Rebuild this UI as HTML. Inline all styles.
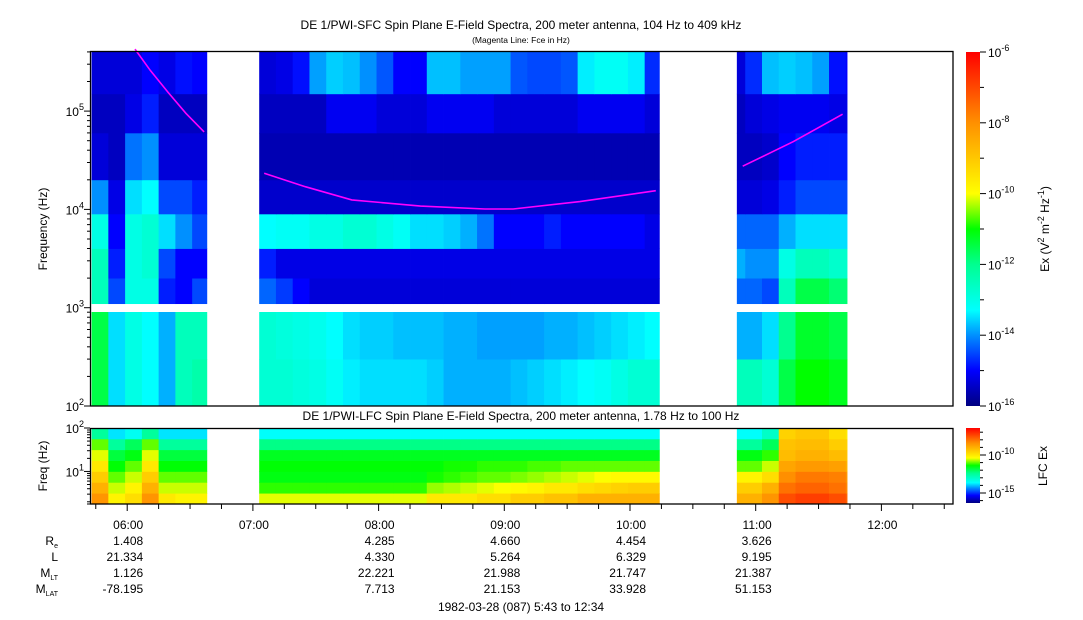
<!DOCTYPE html>
<html><head><meta charset="utf-8"><style>
body{margin:0;background:#fff;}
svg{display:block;font-family:"Liberation Sans",Arial,sans-serif;}
</style></head><body>
<svg id="chart" width="1083" height="620" viewBox="0 0 1083 620" xmlns="http://www.w3.org/2000/svg">
<rect x="0" y="0" width="1083" height="620" fill="#fff"/>
<text x="521" y="29" font-size="12" text-anchor="middle">DE 1/PWI-SFC  Spin Plane E-Field Spectra, 200 meter antenna, 104 Hz to 409 kHz</text>
<text x="521" y="43" font-size="8.5" text-anchor="middle">(Magenta Line: Fce in Hz)</text>
<text x="521" y="420" font-size="12" text-anchor="middle">DE 1/PWI-LFC  Spin Plane E-Field Spectra, 200 meter antenna, 1.78 Hz to 100 Hz</text>
<g id="sfc"></g>
<g id="lfc"></g>
<rect x="90" y="306" width="863" height="6" fill="#fff"/>
<g id="fce"></g>
<rect x="90.5" y="51.5" width="862.5" height="354.5" fill="none" stroke="#000" stroke-width="1.3"/>
<rect x="90.5" y="428.5" width="862.5" height="75.5" fill="none" stroke="#000" stroke-width="1.3"/>
<g id="axes"></g>
<text transform="translate(47,229) rotate(-90)" font-size="12" text-anchor="middle">Frequency (Hz)</text>
<text transform="translate(47,466) rotate(-90)" font-size="12" text-anchor="middle">Freq (Hz)</text>
<defs>
<linearGradient id="jet" x1="0" y1="1" x2="0" y2="0">
<stop offset="0" stop-color="#000080"/><stop offset="0.1" stop-color="#0000ff"/><stop offset="0.2" stop-color="#0090ff"/><stop offset="0.27" stop-color="#00ffff"/><stop offset="0.4" stop-color="#00ff90"/><stop offset="0.5" stop-color="#00ff00"/><stop offset="0.6" stop-color="#ffff00"/><stop offset="0.8" stop-color="#ff9000"/><stop offset="1" stop-color="#ff0000"/>
</linearGradient>
</defs>
<rect x="966" y="52" width="14" height="354" fill="url(#jet)"/>
<rect x="966" y="428" width="14" height="75" fill="url(#jet)"/>
<text transform="translate(1049,229) rotate(-90)" font-size="12" text-anchor="middle">Ex (V<tspan dy="-5" font-size="9">2</tspan><tspan dy="5"> m</tspan><tspan dy="-5" font-size="9">-2</tspan><tspan dy="5"> Hz</tspan><tspan dy="-5" font-size="9">-1</tspan><tspan dy="5">)</tspan></text>
<text transform="translate(1047,466) rotate(-90)" font-size="12" text-anchor="middle">LFC Ex</text>
<g id="eph" font-size="12"></g>
<text x="521" y="611" font-size="12" text-anchor="middle">1982-03-28 (087) 5:43 to 12:34</text>
</svg>
<script>
// ---- data ----
const segments = [[343, 398], [423, 614], [651, 703.6]]; // minutes of day with data
const binStart = 343, binWidth = 8;
const sfcBandEdges = [[100,300],[300,1000],[1100,2000],[2000,4000],[4000,9000],[9000,20000],[20000,60000],[60000,150000],[150000,409000]];
const n = null;
const sfc100_300 = [-11.5,-13.5,-13,-13.3,-13.8,-12.5,-12.3, n,n,n, -12.8,-12.8,-12.9,-13,-13.2,-13.4,-13.5,-13.5,-13.5,-13.5,-13.6,-13.8,-13.8,-13.8,-13.8,-13.7,-13.6,-13.5,-13.4,-13.3,-13.2,-13,-12.8,-12.8, n,n,n,n, -12.5,-12.5,-12.8,-11.5,-11,-11,-11.2,-11.2];
const sfc300_1k = [-11.5,-13.5,-13,-13.3,-13.8,-12.5,-12.5, n,n,n, -12.8,-12.9,-13,-13.1,-13.3,-13.5,-13.6,-13.6,-13.7,-13.7,-13.7,-13.8,-13.8,-13.9,-13.9,-13.9,-13.9,-13.8,-13.8,-13.7,-13.6,-13.5,-13.4,-13.3, n,n,n,n, -13.8,-13.8,-13.5,-12,-11.3,-11.3,-11.5,-11.5];
const sfc1k_2k = [-12.5,-14.5,-13,-13,-14.8,-15,-14.5, n,n,n, -14.3,-14.6,-15,-15.3,-15.3,-15.3,-15.3,-15.3,-15.3,-15.3,-15.3,-15.3,-15.3,-15.3,-15.3,-15.3,-15.3,-15.3,-15.3,-15.3,-15.3,-15.3,-15.3,-15.3, n,n,n,n, -14.3,-14.3,-14.5,-12.5,-11.5,-11.5,-11.8,-11.8];
const sfc2k_4k = [-12.5,-14.8,-13,-12.8,-14.5,-15,-15, n,n,n, -14.8,-15.2,-15.2,-15.2,-15.2,-15.2,-15.2,-15.2,-15.2,-15.2,-15.2,-15.2,-15.2,-15.2,-15.2,-15.2,-15.2,-15.2,-15.2,-15.2,-15.2,-15.2,-15.2,-15.2, n,n,n,n, -13.8,-14,-14,-13,-12.5,-12.5,-12.7,-12.7];
const sfc4k_9k = [-13,-15,-13,-12.8,-13.5,-14,-14.5, n,n,n, -13.3,-13.2,-13.2,-13,-13,-12.8,-12.8,-13,-13.2,-13.5,-13.5,-13.6,-13.8,-14.2,-15,-15,-15,-14.8,-15,-15,-15,-15,-15,-15.2, n,n,n,n, -14.3,-14.3,-14.3,-13.8,-13.5,-13.5,-13.5,-13.5];
const sfc9k_20k = [-14,-15.2,-13.5,-13.3,-14.5,-14.5,-14.8, n,n,n, -15.4,-15.4,-15.4,-15.4,-15.4,-15.4,-15.4,-15.4,-15.4,-15.4,-15.4,-15.4,-15.4,-15.4,-15.4,-15.4,-15.4,-15.4,-15.4,-15.4,-15.4,-15.4,-15.4,-15.4, n,n,n,n, -15.3,-15.3,-15.2,-14.8,-14.5,-14.5,-14.5,-14.5];
const sfc20k_60k = [-15.3,-15.5,-14.2,-14,-15.3,-15.3,-15.3, n,n,n, -15.6,-15.6,-15.6,-15.6,-15.6,-15.6,-15.6,-15.6,-15.6,-15.6,-15.6,-15.6,-15.6,-15.6,-15.6,-15.6,-15.6,-15.6,-15.6,-15.6,-15.6,-15.6,-15.6,-15.6, n,n,n,n, -15.5,-15.5,-15.4,-15,-14.8,-14.8,-14.8,-14.8];
const sfc60k_150k = [-15.5,-15.5,-15.2,-14.8,-15.5,-15.5,-15.5, n,n,n, -15.5,-15.5,-15.5,-15.5,-15.1,-15.1,-15.1,-15.3,-15.3,-15.3,-15.1,-15.1,-15.1,-15.1,-15.3,-15.3,-15.3,-15.3,-15.3,-15.1,-15.1,-15.1,-15.1,-15.3, n,n,n,n, -15.5,-15.3,-15.2,-15.1,-15.1,-15.1,-15.2,-15.2];
const sfc150k_409k = [-15.3,-15.3,-15.3,-15,-15.2,-14.9,-15, n,n,n, -15.3,-15.2,-14.9,-13.9,-13.6,-13.7,-14,-14.4,-15,-15,-13.7,-13.7,-13.9,-13.9,-13.9,-14.4,-14.5,-14.5,-14.4,-13.4,-13.2,-13.2,-13.4,-14.7, n,n,n,n, -15.3,-14.7,-13.7,-13.6,-13.7,-13.9,-14.9,-15];
const sfcRowsList = [sfc100_300, sfc300_1k, sfc1k_2k, sfc2k_4k, sfc4k_9k, sfc9k_20k, sfc20k_60k, sfc60k_150k, sfc150k_409k];

const lfcBandEdges = [[1.78,3.16],[3.16,5.62],[5.62,10],[10,17.8],[17.8,31.6],[31.6,56.2],[56.2,100]];
const lfcL0 = [-8.5,-10.2,-9.8,-8.5,-10,-10.2,-10.2, n,n,n, -10.5,-10.5,-10.5,-10.5,-10.5,-10.5,-10.5,-10.5,-10.5,-10.5,-10,-10,-10,-9.8,-9.8,-9.5,-9.5,-9.3,-9.3,-9,-9,-9,-9,-9, n,n,n,n, -9,-9,-8.5,-7.5,-7.3,-7.3,-7.5,-7.8];
const lfcL1 = [-9,-10.6,-10.2,-9,-10.6,-10.6,-10.6, n,n,n, -11.2,-11.2,-11.2,-11.2,-11.2,-11.2,-11.2,-11.2,-11.2,-11.2,-10.8,-10.7,-10.6,-10.5,-10.4,-10.3,-10.2,-10,-10,-9.8,-9.7,-9.6,-9.5,-9.5, n,n,n,n, -9.5,-9.5,-9,-8,-7.8,-7.8,-8,-8.3];
const lfcL2 = [-9.5,-11,-10.6,-9.5,-11,-11,-11, n,n,n, -11.5,-11.5,-11.5,-11.5,-11.5,-11.5,-11.5,-11.5,-11.5,-11.5,-11.3,-11.2,-11.1,-11,-11,-10.9,-10.8,-10.7,-10.6,-10.5,-10.4,-10.3,-10.3,-10.3, n,n,n,n, -10.2,-10.2,-9.8,-8.4,-8.1,-8.1,-8.2,-8.5];
const lfcL3 = [-10,-11.4,-11,-10,-11.4,-11.4,-11.4, n,n,n, -11.4,-11.4,-11.4,-11.4,-11.4,-11.4,-11.4,-11.4,-11.4,-11.4,-11.4,-11.3,-11.3,-11.2,-11.2,-11.2,-11.1,-11.1,-11,-11,-11,-11,-11,-11, n,n,n,n, -11,-11,-10.6,-8.8,-8.6,-8.6,-8.7,-9];
const lfcL4 = [-10.5,-11.8,-11.5,-10.5,-11.8,-11.8,-11.8, n,n,n, -11.6,-11.6,-11.6,-11.6,-11.6,-11.6,-11.6,-11.6,-11.6,-11.6,-11.6,-11.6,-11.6,-11.6,-11.6,-11.6,-11.6,-11.6,-11.6,-11.6,-11.6,-11.6,-11.6,-11.6, n,n,n,n, -11.5,-11.5,-11.2,-9.2,-9,-9,-9.2,-9.3];
const lfcL5 = [-11,-12.5,-12,-11,-12.5,-12.5,-12.5, n,n,n, -12.3,-12.3,-12.3,-12.3,-12.3,-12.3,-12.3,-12.3,-12.3,-12.3,-12.3,-12.3,-12.3,-12.3,-12.3,-12.3,-12.3,-12.3,-12.3,-12.3,-12.3,-12.3,-12.3,-12.3, n,n,n,n, -12.5,-12.5,-12,-9.3,-9.2,-9.2,-9.5,-9.6];
const lfcL6 = [-12.5,-13.8,-13.5,-12.5,-13.8,-13.8,-13.8, n,n,n, -13.6,-13.6,-13.6,-13.6,-13.6,-13.6,-13.6,-13.6,-13.6,-13.6,-13.6,-13.6,-13.6,-13.6,-13.6,-13.6,-13.6,-13.6,-13.6,-13.6,-13.6,-13.6,-13.6,-13.6, n,n,n,n, -13.6,-13.6,-13,-9.6,-9.4,-9.4,-9.8,-10];
const lfcRowsList = [lfcL0, lfcL1, lfcL2, lfcL3, lfcL4, lfcL5, lfcL6];

const fceSeg1Times = [363.7, 371, 379.5, 388, 396.7];
const fceSeg1Hz = [427000, 260000, 155000, 95000, 61500];
const fceSeg2Times = [425.4, 445, 467.2, 500, 530.8, 544.2, 576.1, 612.3];
const fceSeg2Hz = [23300, 17000, 12500, 10800, 10100, 10100, 12000, 15500];
const fceSeg3Times = [653.8, 678, 701.5];
const fceSeg3Hz = [27500, 49000, 93000];

const hourTicks = [360, 420, 480, 540, 600, 660, 720];
const hourLabels = ["06:00","07:00","08:00","09:00","10:00","11:00","12:00"];
const ephTimes = [360, 480, 540, 600, 660];
const ephRe = ["1.408","4.285","4.660","4.454","3.626"];
const ephL = ["21.334","4.330","5.264","6.329","9.195"];
const ephMLT = ["1.126","22.221","21.988","21.747","21.387"];
const ephMLAT = ["-78.195","7.713","21.153","33.928","51.153"];

// ---- scales ----
const NS = "http://www.w3.org/2000/svg";
const xT = m => 127.2 + (m - 360) * 2.095;
const ySfc = f => 406 - (Math.log10(f) - 2) * 98.3;
const yLfc = f => 504 - (Math.log10(f) - Math.log10(1.78)) * (76 / (2 - Math.log10(1.78)));
const stops = [[0,[0,0,128]],[0.1,[0,0,255]],[0.2,[0,144,255]],[0.27,[0,255,255]],[0.4,[0,255,144]],[0.5,[0,255,0]],[0.6,[255,255,0]],[0.8,[255,144,0]],[1,[255,0,0]]];
function jet(t){t=Math.max(0,Math.min(1,t));for(let i=1;i<stops.length;i++){if(t<=stops[i][0]){const a=stops[i-1],b=stops[i],u=(t-a[0])/(b[0]-a[0]);const c=a[1].map((v,k)=>Math.round(v+(b[1][k]-v)*u));return `rgb(${c[0]},${c[1]},${c[2]})`;}}return "rgb(255,0,0)";}
const sfcColor = v => jet((v + 16) / 10);
const lfcColor = v => jet((v + 16.3) / 9.85);
function mk(tag, attrs, parent){const e=document.createElementNS(NS,tag);for(const k in attrs)e.setAttribute(k,attrs[k]);parent.appendChild(e);return e;}

function drawGrid(group, rows, edges, yScale, colorFn){
  rows.forEach((row, r) => {
    row.forEach((v, i) => {
      if (v === null) return;
      const t0 = binStart + i * binWidth, t1 = t0 + binWidth;
      segments.forEach(s => {
        const a = Math.max(t0, s[0]), b = Math.min(t1, s[1]);
        if (b <= a) return;
        const x0 = xT(a), x1 = xT(b);
        const y0 = yScale(edges[r][1]), y1 = yScale(edges[r][0]);
        const rc = mk("rect", {x: x0.toFixed(2), y: y0.toFixed(2), width: (x1 - x0 + 0.4).toFixed(2), height: (y1 - y0 + 0.4).toFixed(2), fill: colorFn(v)}, group);
        
        
      });
    });
  });
}
drawGrid(document.getElementById("sfc"), sfcRowsList, sfcBandEdges, ySfc, sfcColor);
drawGrid(document.getElementById("lfc"), lfcRowsList, lfcBandEdges, yLfc, lfcColor);

// Fce line
const fceG = document.getElementById("fce");
[[fceSeg1Times, fceSeg1Hz],[fceSeg2Times, fceSeg2Hz],[fceSeg3Times, fceSeg3Hz]].forEach(p => {
  const pts = p[0].map((t, i) => xT(t).toFixed(1) + "," + ySfc(p[1][i]).toFixed(1)).join(" ");
  const pl = mk("polyline", {points: pts, fill: "none", stroke: "#ff00ff", "stroke-width": 1.6}, fceG);
  
  
});

// axes
const ax = document.getElementById("axes");
function line(x1,y1,x2,y2,name){const l=mk("line",{x1,y1,x2,y2,stroke:"#000","stroke-width":1},ax);}
function powLabel(x,y,base,exp,name,anchor){const t=mk("text",{x,y,"font-size":12,"text-anchor":anchor},ax);t.textContent=base;const s=document.createElementNS(NS,"tspan");s.setAttribute("dy","-6");s.setAttribute("font-size","9");s.textContent=exp;t.appendChild(s);return t;}
for (let d = 2; d <= 5; d++) {
  for (let m = 1; m <= 9; m++) {
    const f = m * Math.pow(10, d);
    if (f > 409000) break;
    const y = ySfc(f);
    line(m === 1 ? 84 : 87, y, 90, y, m === 1 ? 'sfc-y-major-tick' : 'sfc-y-minor-tick');
  }
  powLabel(84, ySfc(Math.pow(10, d)) + 5, "10", String(d), 'sfc-y-tick-label', 'end');
}
[1.78,2,3,4,5,6,7,8,9,10,20,30,40,50,60,70,80,90,100].forEach(f => {
  const major = (f === 10 || f === 100);
  line(major ? 84 : 87, yLfc(f), 90, yLfc(f), major ? 'lfc-y-major-tick' : 'lfc-y-minor-tick');
});
powLabel(84, yLfc(100) + 5, "10", "2", 'lfc-y-tick-label', 'end');
powLabel(84, yLfc(10) + 5, "10", "1", 'lfc-y-tick-label', 'end');
for (let m = 345; m <= 750; m += 15) {
  const x = xT(m);
  if (x > 953) break;
  const major = (m % 60 === 0);
  line(x, 504, x, major ? 511 : 509, major ? 'x-major-tick' : 'x-minor-tick');
}
hourTicks.forEach((m, i) => {
  const t = mk("text", {x: xT(m) + 16, y: 529, "font-size": 12, "text-anchor": "end"}, ax);
  
  
  t.textContent = hourLabels[i];
});
for (let e = -16; e <= -6; e++) {
  const y = 406 - (e + 16) * 35.4;
  line(980, y, e % 2 === 0 ? 986 : 984, y, 'sfc-colorbar-tick');
  if (e % 2 === 0) powLabel(988, y + 5, "10", String(e), 'sfc-colorbar-label', 'start');
}
for (let e = -16; e <= -7; e++) {
  const y = 493 - (e + 15) * 7.6;
  if (y < 428 || y > 503) continue;
  line(980, y, (e === -10 || e === -15) ? 986 : 983, y, 'lfc-colorbar-tick');
}
powLabel(988, 460, "10", "-10", 'lfc-colorbar-label', 'start');
powLabel(988, 498, "10", "-15", 'lfc-colorbar-label', 'start');

const eph = document.getElementById("eph");
function ephLabel(y, main, sub, name){const t=mk("text",{x:58,y,"text-anchor":"end"},eph);t.textContent=main;if(sub){const s=document.createElementNS(NS,"tspan");s.setAttribute("dy","3");s.setAttribute("font-size","7");s.textContent=sub;t.appendChild(s);}}
ephLabel(545,"R","e",'re-row-label');
ephLabel(561,"L","",'l-row-label');
ephLabel(577,"M","LT",'mlt-row-label');
ephLabel(593,"M","LAT",'mlat-row-label');
[[ephRe,545,'re-value'],[ephL,561,'l-value'],[ephMLT,577,'mlt-value'],[ephMLAT,593,'mlat-value']].forEach(r => {
  r[0].forEach((v, i) => {
    const t = mk("text", {x: xT(ephTimes[i]) + 16, y: r[1], "text-anchor": "end"}, eph);
    
    
    t.textContent = v;
  });
});
</script>
</body></html>
